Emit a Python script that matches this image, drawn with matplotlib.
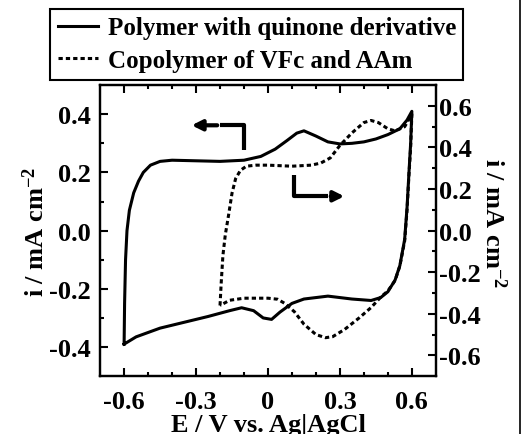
import matplotlib
matplotlib.use("Agg")
import matplotlib.pyplot as plt
from matplotlib.lines import Line2D

plt.rcParams['font.family'] = ['Liberation Serif', 'DejaVu Serif']
plt.rcParams['font.weight'] = 'bold'
plt.rcParams['axes.labelweight'] = 'bold'
plt.rcParams['mathtext.fontset'] = 'custom'
plt.rcParams['mathtext.rm'] = 'Liberation Serif:bold'
plt.rcParams['mathtext.bf'] = 'Liberation Serif:bold'
plt.rcParams['mathtext.default'] = 'rm'

# polymer with quinone derivative (left axis), one full cycle
quin_E = [-0.6, -0.598, -0.594, -0.588, -0.578, -0.56, -0.54, -0.52, -0.49, -0.45, -0.4,
          -0.3, -0.2, -0.1, -0.03, 0.03, 0.08, 0.12, 0.15, 0.2, 0.25, 0.3, 0.35, 0.4, 0.45,
          0.5, 0.55, 0.58, 0.6,
          0.595, 0.588, 0.58, 0.57, 0.55, 0.53, 0.5, 0.47, 0.43, 0.35, 0.25, 0.15, 0.1,
          0.05, 0.015, -0.02, -0.06, -0.11, -0.16, -0.25, -0.35, -0.45, -0.55, -0.6]
quin_i = [-0.39, -0.25, -0.1, 0.0, 0.07, 0.13, 0.17, 0.2, 0.225, 0.238, 0.242,
          0.24, 0.238, 0.242, 0.255, 0.28, 0.31, 0.335, 0.343, 0.325, 0.305, 0.298, 0.3, 0.305, 0.315,
          0.33, 0.35, 0.38, 0.41,
          0.3, 0.2, 0.08, -0.03, -0.12, -0.17, -0.21, -0.23, -0.24, -0.235, -0.225, -0.235, -0.25,
          -0.28, -0.305, -0.3, -0.275, -0.265, -0.275, -0.295, -0.315, -0.335, -0.365, -0.39]

# copolymer of VFc and AAm (right axis)
vfc_E = [-0.2, -0.195, -0.188, -0.178, -0.165, -0.15, -0.135, -0.115, -0.09, -0.05, 0.0,
         0.1, 0.18, 0.22, 0.26, 0.3, 0.35, 0.4, 0.43, 0.46, 0.5, 0.53, 0.57, 0.6,
         0.595, 0.588, 0.58, 0.57, 0.55, 0.53, 0.5, 0.47, 0.43, 0.38, 0.32, 0.27, 0.24,
         0.2, 0.15, 0.11, 0.07, 0.04, 0.0, -0.1, -0.16, -0.2]
vfc_i = [-0.36, -0.25, -0.12, -0.02, 0.07, 0.18, 0.25, 0.29, 0.31, 0.315, 0.315,
         0.31, 0.315, 0.325, 0.35, 0.41, 0.47, 0.52, 0.53, 0.52, 0.49, 0.48, 0.5, 0.56,
         0.4, 0.27, 0.1, -0.05, -0.17, -0.24, -0.29, -0.32, -0.37, -0.42, -0.475, -0.51, -0.515,
         -0.5, -0.45, -0.39, -0.35, -0.33, -0.325, -0.325, -0.335, -0.36]

x_ticks = [-0.6, -0.3, 0, 0.3, 0.6]
x_labels = ['-0.6', '-0.3', '0', '0.3', '0.6']
left_ticks = [-0.4, -0.2, 0.0, 0.2, 0.4]
right_ticks = [-0.6, -0.4, -0.2, 0.0, 0.2, 0.4, 0.6]

fs = 19
fig = plt.figure(figsize=(5.27, 4.35), dpi=100)
ax = fig.add_axes([0.19, 0.133, 0.637, 0.669])
ax2 = ax.twinx()

l1, = ax.plot(quin_E, quin_i, color='black', lw=2.2)
l2, = ax2.plot(vfc_E, vfc_i, color='black', lw=2.2, ls=(0, (1.4, 1.0)))

ax.set_xlim(-0.7, 0.7)
ax.set_ylim(-0.5, 0.5)
ax2.set_ylim(-0.7, 0.7)

ax.set_xticks(x_ticks)
ax.set_xticklabels(x_labels)
ax.set_xticks([k / 10 for k in range(-6, 7)], minor=True)
ax.set_yticks(left_ticks)
ax.set_yticklabels(['%.1f' % v for v in left_ticks])
ax.set_yticks([k / 10 for k in range(-4, 5)], minor=True)
ax2.set_yticks(right_ticks)
ax2.set_yticklabels(['%.1f' % v for v in right_ticks])
ax2.set_yticks([k / 10 for k in range(-6, 7)], minor=True)

for a in (ax, ax2):
    a.tick_params(which='both', direction='in', labelsize=fs, width=1.5)
    a.tick_params(which='major', length=6)
    a.tick_params(which='minor', length=3)
    for s in a.spines.values():
        s.set_linewidth(1.6)
ax.tick_params(which='both', top=True, right=False)
ax.tick_params(axis='x', pad=10)
ax.tick_params(axis='y', pad=7)
ax2.tick_params(axis='y', pad=2)

ax.set_xlabel('E / V vs. Ag|AgCl', fontsize=fs, labelpad=0)
ax.set_ylabel('i / mA cm$^{-2}$', fontsize=fs, labelpad=0)
ax2.set_ylabel('i / mA cm$^{-2}$', fontsize=fs, rotation=270, va='center', ha='center')
ax2.yaxis.set_label_coords(1.17, 0.53)

# direction arrows
ax.plot([-0.102, -0.102, -0.2], [0.277, 0.362, 0.362], color='black', lw=3, solid_capstyle='butt')
ax.annotate('', xy=(-0.33, 0.362), xytext=(-0.2, 0.362),
            arrowprops=dict(arrowstyle='-|>,head_length=0.6,head_width=0.3', color='black', lw=3))
ax.plot([0.107, 0.107, 0.25], [0.19, 0.118, 0.118], color='black', lw=3, solid_capstyle='butt')
ax.annotate('', xy=(0.33, 0.118), xytext=(0.25, 0.118),
            arrowprops=dict(arrowstyle='-|>,head_length=0.6,head_width=0.3', color='black', lw=3))

leg = fig.legend([l1, l2], ['Polymer with quinone derivative', 'Copolymer of VFc and AAm'],
                 loc='upper left', bbox_to_anchor=(50 / 527, 1 - 10 / 435), fontsize=18,
                 handlelength=1.6, handletextpad=0.4, labelspacing=0.38, borderpad=0.3,
                 fancybox=False, edgecolor='black', framealpha=1, borderaxespad=0)
leg.get_frame().set_linewidth(1.5)

fig.add_artist(Line2D([520 / 527, 520 / 527], [0, 1], color='black', lw=1.2))

fig.savefig('out.png', dpi=100)
